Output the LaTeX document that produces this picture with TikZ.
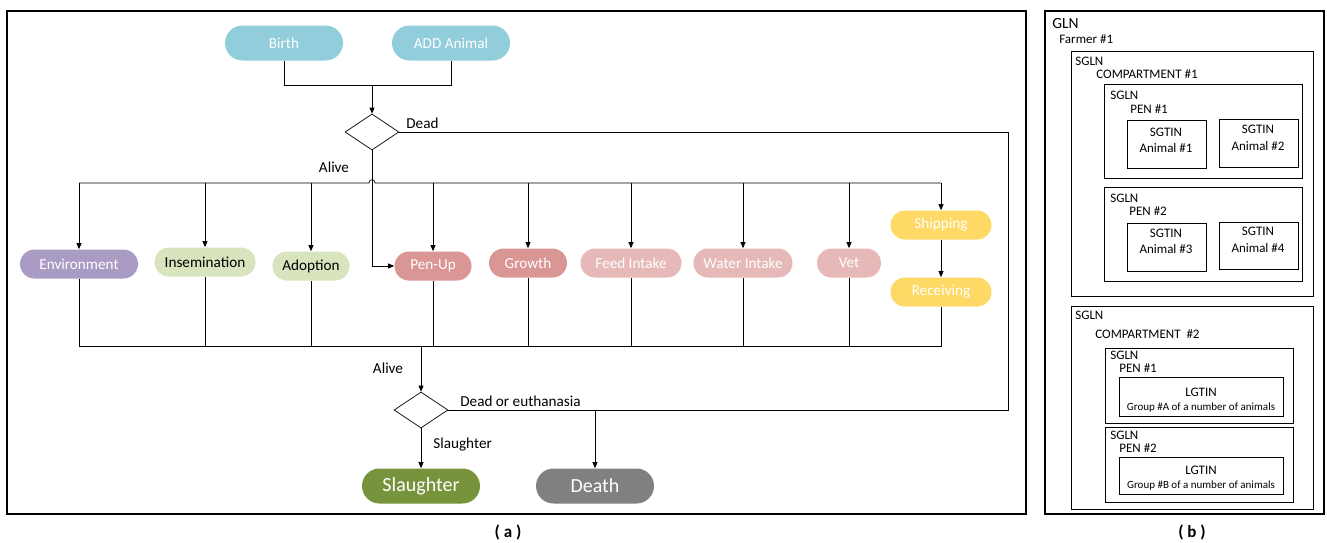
\documentclass[tikz,border=0pt]{standalone}
\usepackage{fontspec}
\setmainfont{Carlito}
\usetikzlibrary{shapes.geometric,arrows.meta}
\definecolor{cBlue}{HTML}{92CDDC}
\definecolor{cPurple}{HTML}{A99BC4}
\definecolor{cLGreen}{HTML}{D7E4BD}
\definecolor{cRose}{HTML}{D99694}
\definecolor{cLRose}{HTML}{E6B9B8}
\definecolor{cYellow}{HTML}{FFD966}
\definecolor{cGreen}{HTML}{77933C}
\definecolor{cGray}{HTML}{808080}
\begin{document}
\begin{tikzpicture}[x=1pt,y=-1pt,
  line width=0.7pt,
  pill/.style={rectangle, rounded corners=14.5pt, minimum height=29pt, inner sep=0pt,
     text=white, font=\fontsize{15.2}{17}\selectfont},
  bigpill/.style={pill, rounded corners=17.5pt, minimum height=35pt, minimum width=118pt},
  dia/.style={diamond, draw, aspect=1.5, minimum width=54pt, minimum height=36pt, inner sep=0pt},
  arr/.style={-{Triangle[length=6pt,width=5pt]}},
  lbl/.style={font=\fontsize{15.2}{17}\selectfont, inner sep=0pt},
  frame/.style={line width=1.6pt},
  bx/.style={line width=0.7pt},
  btxt/.style={font=\fontsize{13}{15}\selectfont, inner sep=0pt},
  stxt/.style={font=\fontsize{11}{13}\selectfont, inner sep=0pt}
]
\useasboundingbox (0,0) rectangle (1327,542);

% frames
\draw[frame] (7,11) rectangle (1026,514);
\draw[frame] (1045,11) rectangle (1324,514);
\node[font=\bfseries\fontsize{17}{19}\selectfont] (capa) at (508,532) {( a )};
\node[font=\bfseries\fontsize{17}{19}\selectfont] (capb) at (1192,532) {( b )};

% ---------- panel (a) ----------
\node[bigpill, fill=cBlue] (birth) at (284,43) {Birth};
\node[bigpill, fill=cBlue] (add) at (451,43) {ADD Animal};
\node[dia] (d1) at (372,132) {};

\node[pill, fill=cPurple, minimum width=118pt] (env) at (79,264) {Environment};
\node[pill, fill=cLGreen, minimum width=101pt, text=black] (ins) at (205,262) {Insemination};
\node[pill, fill=cLGreen, minimum width=77pt, text=black] (adop) at (311,266) {Adoption};
\node[pill, fill=cRose, minimum width=77pt] (pen) at (433,266) {Pen-Up};
\node[pill, fill=cRose, minimum width=78pt] (grow) at (528,263) {Growth};
\node[pill, fill=cLRose, minimum width=101pt] (feed) at (631,263) {Feed Intake};
\node[pill, fill=cLRose, minimum width=99pt] (water) at (743,263) {Water Intake};
\node[pill, fill=cLRose, minimum width=64pt] (vet) at (849,263) {Vet};
\node[pill, fill=cYellow, minimum width=101pt] (ship) at (941,225) {Shipping};
\node[pill, fill=cYellow, minimum width=101pt] (recv) at (941,292) {Receiving};

\node[dia] (d2) at (421,410) {};
\node[bigpill, fill=cGreen, font=\fontsize{20}{22}\selectfont] (slau) at (421,486) {Slaughter};
\node[bigpill, fill=cGray, font=\fontsize{20}{22}\selectfont] (death) at (595,486) {Death};

% labels
\node[lbl, anchor=base west] (ldead) at (406,128) {Dead};
\node[lbl] (lalive1) at (334,167) {Alive};
\node[lbl] (lalive2) at (388,368) {Alive};
\node[lbl, anchor=base west] (ldoe) at (460,406) {Dead or euthanasia};
\node[lbl, anchor=base west] (lsl) at (433,448) {Slaughter};

% coordinates
\coordinate (j1) at (372,85);
\coordinate (bt) at (0,183);
\coordinate (bb) at (0,346);
\coordinate (dr1) at (1008,132);
\coordinate (dr2) at (1008,410);
\coordinate (dd) at (595,410);
\coordinate (hopL) at (369,183);
\coordinate (hopR) at (375,183);

% top merge
\draw (birth.south) |- (add.south |- j1) -- (add.south);
\draw[arr] (j1) -- (d1.north);

% dead branch
\draw (d1.east) -- (dr1) -- (dr2) -- (d2.east);
\draw[arr] (dd) -- (death.north);

% top bus with hop
\draw (env.north |- bt) -- (hopL) .. controls (369,178.5) and (375,178.5) .. (hopR) -- (ship.north |- bt);
\draw[arr] (d1.south) |- (pen.west);
\foreach \n in {env,ins,adop,pen,grow,feed,water,vet,ship}
  \draw[arr] (\n.north |- bt) -- (\n.north);
\draw[arr] (ship.south) -- (recv.north);

% bottom bus
\draw (env.south) |- (recv.south |- bb) -- (recv.south);
\foreach \n in {ins,adop,pen,grow,feed,water,vet}
  \draw (\n.south) -- (\n.south |- bb);
\draw[arr] (d2.north |- bb) -- (d2.north);
\draw[arr] (d2.south) -- (slau.north);

% ---------- panel (b) ----------
\node[font=\fontsize{15.5}{17}\selectfont, inner sep=0pt, anchor=base west] (gln) at (1052,28) {GLN};
\node[btxt, anchor=base west] (farmer) at (1059,43) {Farmer \#1};

\draw[bx] (1071,51) rectangle (1313,296);
\node[btxt, anchor=base west] (s1) at (1075,65) {SGLN};
\node[btxt, anchor=base west] (c1) at (1096,78) {COMPARTMENT \#1};

\draw[bx] (1104,84) rectangle (1302,178);
\node[btxt, anchor=base west] (s11) at (1110,99) {SGLN};
\node[btxt, anchor=base west] (p11) at (1130,113) {PEN \#1};
\draw[bx] (1127,120) rectangle (1206,168);
\node[btxt, anchor=base] (a1a) at (1166,136) {SGTIN};
\node[btxt, anchor=base] (a1b) at (1166,152) {Animal \#1};
\draw[bx] (1219,119) rectangle (1298,167);
\node[btxt, anchor=base] (a2a) at (1258,133) {SGTIN};
\node[btxt, anchor=base] (a2b) at (1258,150) {Animal \#2};

\draw[bx] (1104,187) rectangle (1302,281);
\node[btxt, anchor=base west] (s12) at (1110,202) {SGLN};
\node[btxt, anchor=base west] (p12) at (1129,215) {PEN \#2};
\draw[bx] (1127,223) rectangle (1206,271);
\node[btxt, anchor=base] (a3a) at (1166,237) {SGTIN};
\node[btxt, anchor=base] (a3b) at (1166,253) {Animal \#3};
\draw[bx] (1219,222) rectangle (1298,269);
\node[btxt, anchor=base] (a4a) at (1258,235) {SGTIN};
\node[btxt, anchor=base] (a4b) at (1258,252) {Animal \#4};

\draw[bx] (1071,306) rectangle (1313,509);
\node[btxt, anchor=base west] (s2) at (1075,319) {SGLN};
\node[btxt, anchor=base west] (c2) at (1095,338) {COMPARTMENT \ \#2};

\draw[bx] (1105,348) rectangle (1293,423);
\node[btxt, anchor=base west] (s21) at (1110,359) {SGLN};
\node[btxt, anchor=base west] (p21) at (1119,372) {PEN \#1};
\draw[bx] (1119,377) rectangle (1283,416);
\node[btxt, anchor=base] (lg1) at (1201,396) {LGTIN};
\node[stxt, anchor=base] (g1) at (1201,410) {Group \#A of a number of animals};

\draw[bx] (1105,427) rectangle (1293,502);
\node[btxt, anchor=base west] (s22) at (1110,439) {SGLN};
\node[btxt, anchor=base west] (p22) at (1119,452) {PEN \#2};
\draw[bx] (1119,457) rectangle (1283,494);
\node[btxt, anchor=base] (lg2) at (1201,474) {LGTIN};
\node[stxt, anchor=base] (g2) at (1201,488) {Group \#B of a number of animals};
\end{tikzpicture}
\end{document}
